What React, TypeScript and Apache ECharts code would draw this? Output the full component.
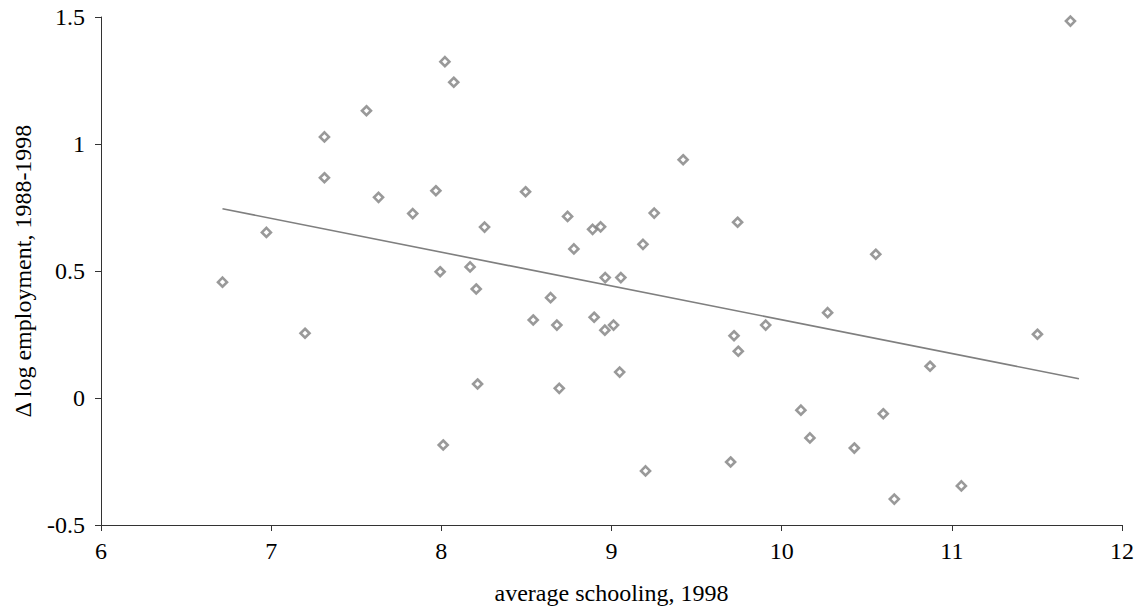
import React, { useEffect, useRef } from "react";
import * as echarts from "echarts";

const schooling = [
  6.714, 6.972, 7.199, 7.313, 7.313, 7.56, 7.631, 7.832, 7.968, 7.993, 8.021, 8.011, 8.073,
  8.169, 8.205, 8.213, 8.254, 8.495, 8.54, 8.642, 8.679, 8.693, 8.742, 8.779, 8.898, 8.889,
  8.936, 8.963, 8.961, 9.012, 9.055, 9.048, 9.185, 9.2, 9.251, 9.421, 9.7, 9.72, 9.741, 9.745,
  9.906, 10.113, 10.166, 10.27, 10.427, 10.553, 10.597, 10.662, 10.872, 11.056, 11.503, 11.697,
];
const empGrowth = [
  0.456, 0.652, 0.255, 1.028, 0.867, 1.131, 0.79, 0.726, 0.816, 0.497, 1.324, -0.185, 1.243,
  0.516, 0.429, 0.055, 0.673, 0.812, 0.307, 0.395, 0.287, 0.038, 0.715, 0.587, 0.318, 0.664,
  0.674, 0.474, 0.267, 0.287, 0.474, 0.102, 0.605, -0.287, 0.728, 0.938, -0.252, 0.245, 0.692,
  0.184, 0.287, -0.048, -0.157, 0.336, -0.197, 0.566, -0.062, -0.398, 0.125, -0.346, 0.251,
  1.484,
];
const trendX = [6.714, 11.747];
const trendY = [0.745, 0.076];

const xTicks = { min: 6, max: 12, interval: 1 };
const yTicks = { min: -0.5, max: 1.5, interval: 0.5 };

const xTitle = "average schooling, 1998";
const yTitle = "Δ log employment, 1988-1998";

const FONT = "'Liberation Serif', 'DejaVu Serif', serif";

export default function App() {
  const ref = useRef<HTMLDivElement>(null);
  useEffect(() => {
    if (!ref.current) return;
    const chart = echarts.init(ref.current, null, { renderer: "svg" });
    const points = schooling.map((x, i) => [x, empGrowth[i]]);
    const trend = trendX.map((x, i) => [x, trendY[i]]);
    const axisCommon = {
      type: "value" as const,
      nameLocation: "middle" as const,
      nameTextStyle: { fontFamily: FONT, fontSize: 24, color: "#000" },
      axisLine: { show: true, onZero: false, lineStyle: { color: "#333", width: 1 } },
      axisTick: { show: true, inside: false, length: 6, lineStyle: { color: "#333", width: 1 } },
      splitLine: { show: false },
    };
    chart.setOption({
      animation: false,
      backgroundColor: "#fff",
      textStyle: { fontFamily: FONT },
      grid: { left: 101, right: 15, top: 17, bottom: 87, containLabel: false },
      xAxis: {
        ...axisCommon,
        ...xTicks,
        name: xTitle,
        nameGap: 56,
        axisLabel: { fontFamily: FONT, fontSize: 24, color: "#000", margin: 14 },
      },
      yAxis: {
        ...axisCommon,
        ...yTicks,
        name: yTitle,
        nameGap: 66,
        axisLabel: { fontFamily: FONT, fontSize: 24, color: "#000", margin: 16 },
      },
      series: [
        {
          type: "line",
          data: trend,
          showSymbol: false,
          symbol: "none",
          lineStyle: { color: "#7f7f7f", width: 1.6 },
          silent: true,
          z: 1,
        },
        {
          type: "scatter",
          data: points,
          symbol: "diamond",
          symbolSize: 9,
          itemStyle: { color: "#fff", borderColor: "#7f7f7f", borderWidth: 2.6 },
          z: 2,
        },
      ],
    });
    return () => chart.dispose();
  }, []);
  return (
    <div
      ref={ref}
      style={{ position: "fixed", left: 0, top: 0, width: 1137, height: 612, background: "#fff" }}
    />
  );
}
